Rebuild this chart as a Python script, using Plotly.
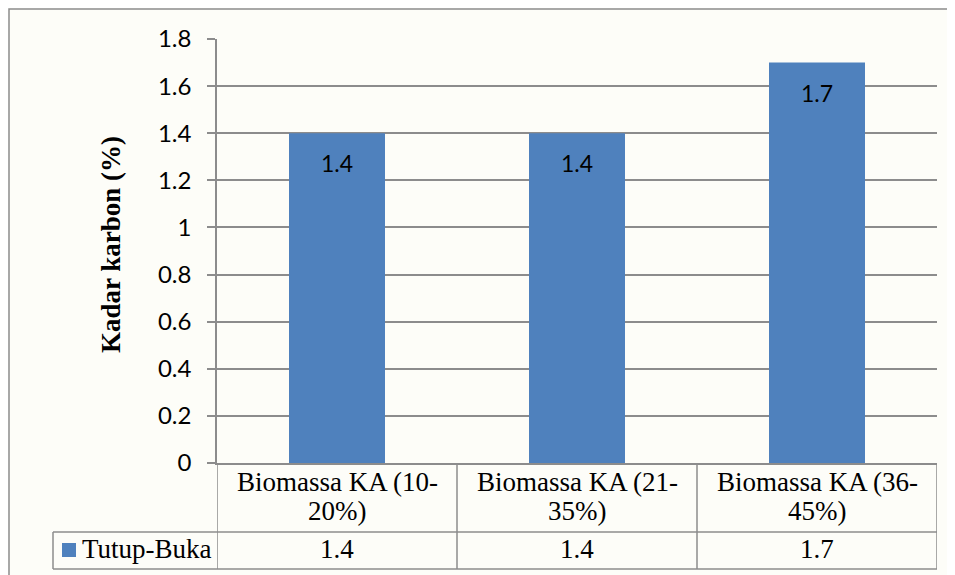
import plotly.graph_objects as go

categories = ["Biomassa KA (10-<br>20%)", "Biomassa KA (21-<br>35%)", "Biomassa KA (36-<br>45%)"]
series_name = "Tutup-Buka"
values = [1.4, 1.4, 1.7]
y_ticks = [0, 0.2, 0.4, 0.6, 0.8, 1, 1.2, 1.4, 1.6, 1.8]
y_tick_labels = ["0", "0.2", "0.4", "0.6", "0.8", "1", "1.2", "1.4", "1.6", "1.8"]
y_title = "Kadar karbon (%)"

W, H = 955, 575
OFF = 8  # page body margin in the browser
L, R, T, B = 217 - OFF, 937 - OFF, 39 - OFF, 463 - OFF
BAR_COLOR = "#4f81bd"
GRID = "#8c8c8c"
BG = "#fdfdf8"
SERIF = "Liberation Serif, Times New Roman, serif"
SANS = "Lato, Carlito, Calibri, sans-serif"


def px(x):
    return (x - OFF - L) / (R - L)


def py(y):
    return (B - (y - OFF)) / (B - T)


x_idx = list(range(len(categories)))

fig = go.Figure()
fig.add_trace(go.Bar(
    x=x_idx, y=values, marker=dict(color=BAR_COLOR, line=dict(width=0)),
    width=0.4, showlegend=False, hoverinfo="skip",
))

annotations = []
shapes = []

# bar value labels
for i, v in zip(x_idx, values):
    annotations.append(dict(x=i, y=v, xref="x", yref="y", text=str(v), showarrow=False,
                            yshift=-30, font=dict(family=SANS, size=23, color="#000000")))

# data table category labels and values
for i, (c, v) in enumerate(zip(categories, values)):
    lines = c.split("<br>")
    ys = [482, 511]
    for ln, yy in zip(lines, ys):
        annotations.append(dict(x=i, y=py(yy), xref="x", yref="paper", text=ln, showarrow=False,
                                font=dict(family=SERIF, size=27, color="#000000"), yanchor="middle"))
    annotations.append(dict(x=i, y=py(549), xref="x", yref="paper", text=str(v), showarrow=False,
                            font=dict(family=SERIF, size=27, color="#000000"), yanchor="middle"))

# legend entry in table
annotations.append(dict(x=px(80), y=py(549), xref="paper", yref="paper", text=series_name,
                        showarrow=False, xanchor="left", yanchor="middle",
                        font=dict(family=SERIF, size=27, color="#000000")))
shapes.append(dict(type="rect", xref="paper", yref="paper", x0=px(62), x1=px(76), y0=py(557), y1=py(543),
                   fillcolor=BAR_COLOR, line=dict(width=0)))

# y-axis title
annotations.append(dict(x=px(94), y=py(245), xref="paper", yref="paper", text="<b>" + y_title + "</b>",
                        textangle=-90, showarrow=False,
                        font=dict(family=SERIF, size=27, color="#000000")))

line_style = dict(color=GRID, width=1.5)
# table vertical lines
for xb in [-0.5, 0.5, 1.5, 2.5]:
    shapes.append(dict(type="line", xref="x", yref="paper", x0=xb, x1=xb, y0=0, y1=py(569), line=line_style))
# table horizontal lines
for yy in [532, 569]:
    shapes.append(dict(type="line", xref="paper", yref="paper", x0=px(53), x1=1, y0=py(yy), y1=py(yy), line=line_style))
shapes.append(dict(type="line", xref="paper", yref="paper", x0=px(53), x1=px(53), y0=py(532), y1=py(569), line=line_style))
# outer chart border
shapes.append(dict(type="rect", xref="paper", yref="paper", x0=px(9), x1=px(990), y0=py(620), y1=py(9),
                   line=dict(color="#8c8c8c", width=1.5), fillcolor="rgba(0,0,0,0)"))

fig.update_layout(
    width=W, height=H,
    margin=dict(l=L, r=W - R, t=T, b=H - B, pad=0),
    paper_bgcolor=BG, plot_bgcolor=BG,
    xaxis=dict(range=[-0.5, 2.5], showticklabels=False, showgrid=False, zeroline=False,
               showline=True, linecolor=GRID, linewidth=1.5, ticks="", fixedrange=True),
    yaxis=dict(range=[0, 1.8], tickvals=y_ticks, ticktext=y_tick_labels, showgrid=True,
               gridcolor=GRID, gridwidth=1.5, zeroline=False, showline=True, linecolor=GRID,
               linewidth=1.5, ticks="outside", ticklen=8, tickcolor=GRID, tickwidth=1.5,
               ticklabelstandoff=11,
               tickfont=dict(family=SANS, size=24, color="#000000"), fixedrange=True),
    annotations=annotations,
    shapes=shapes,
    showlegend=False,
)

fig.write_html("out.html")
